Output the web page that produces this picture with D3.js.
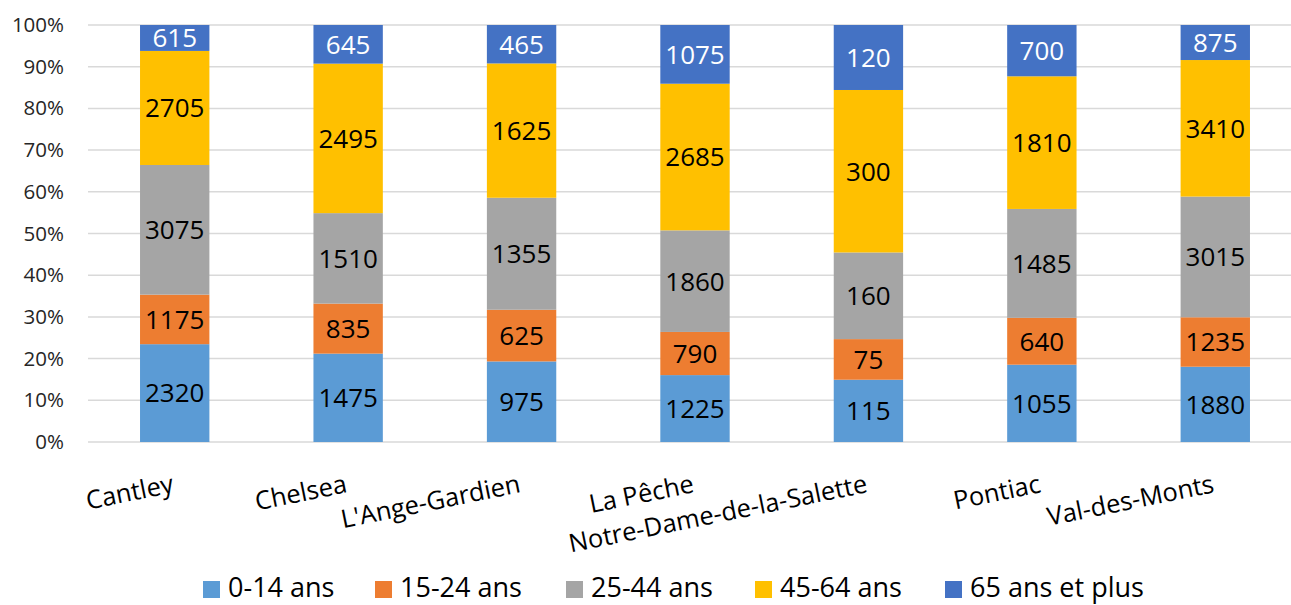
<!DOCTYPE html>
<html>
<head>
<meta charset="utf-8">
<script src="https://cdn.jsdelivr.net/npm/d3@7"></script>
<style>
  body { margin: 0; background: #fff; }
  text { font-family: "Open Sans", "Noto Sans", sans-serif; }
</style>
</head>
<body>
<div id="chart"></div>
<script>
// categories and series
var municipalites = ["Cantley", "Chelsea", "L'Ange-Gardien", "La Pêche", "Notre-Dame-de-la-Salette", "Pontiac", "Val-des-Monts"];
var groupes = ["0-14 ans", "15-24 ans", "25-44 ans", "45-64 ans", "65 ans et plus"];
var couleurs = ["#5B9BD5", "#ED7D31", "#A5A5A5", "#FFC000", "#4472C4"];

var age0_14 = [2320, 1475, 975, 1225, 115, 1055, 1880];
var age15_24 = [1175, 835, 625, 790, 75, 640, 1235];
var age25_44 = [3075, 1510, 1355, 1860, 160, 1485, 3015];
var age45_64 = [2705, 2495, 1625, 2685, 300, 1810, 3410];
var age65plus = [615, 645, 465, 1075, 120, 700, 875];

var yTicks = [0, 0.1, 0.2, 0.3, 0.4, 0.5, 0.6, 0.7, 0.8, 0.9, 1];

var svgWidth = 1291;
var svgHeight = 605;

var margin = { top: 25, right: -11, bottom: 163, left: 88 };
var chartWidth = svgWidth - margin.left - margin.right;
var chartHeight = svgHeight - margin.top - margin.bottom;

var svg = d3.select("#chart").append("svg")
  .attr("width", svgWidth)
  .attr("height", svgHeight);

var chartGroup = svg.append("g")
  .attr("transform", `translate(${margin.left}, ${margin.top})`);

// build rows for the stack
var series = [age0_14, age15_24, age25_44, age45_64, age65plus];
var rows = municipalites.map(function(m, i) {
  var row = { name: m };
  groupes.forEach(function(g, j) { row[g] = series[j][i]; });
  return row;
});

var stacked = d3.stack()
  .keys(groupes)
  .offset(d3.stackOffsetExpand)(rows);

var x = d3.scaleBand()
  .domain(municipalites)
  .range([0, chartWidth])
  .paddingInner(0.6)
  .paddingOuter(0.3);

var y = d3.scaleLinear()
  .domain([0, 1])
  .range([chartHeight, 0]);

// gridlines
chartGroup.append("g")
  .selectAll("line")
  .data(yTicks)
  .enter().append("line")
  .attr("x1", 0)
  .attr("x2", chartWidth)
  .attr("y1", d => y(d))
  .attr("y2", d => y(d))
  .attr("stroke", "#d9d9d9")
  .attr("stroke-width", 1.5);

// y axis labels
var yAxis = d3.axisLeft(y)
  .tickValues(yTicks)
  .tickFormat(d3.format(".0%"))
  .tickSize(0)
  .tickPadding(24);

var yg = chartGroup.append("g").call(yAxis);
yg.select(".domain").remove();
yg.selectAll("text")
  .attr("font-size", 20.5)
  .attr("fill", "#262626")
  .style("font-family", "'Open Sans', sans-serif");

// bars
var layers = chartGroup.selectAll(".layer")
  .data(stacked)
  .enter().append("g")
  .attr("class", "layer")
  .attr("fill", (d, i) => couleurs[i]);

layers.selectAll("rect")
  .data(d => d)
  .enter().append("rect")
  .attr("x", d => x(d.data.name))
  .attr("width", x.bandwidth())
  .attr("y", d => y(d[1]))
  .attr("height", d => y(d[0]) - y(d[1]));

// data labels
layers.each(function(layer, i) {
  d3.select(this).selectAll("text")
    .data(layer)
    .enter().append("text")
    .attr("x", d => x(d.data.name) + x.bandwidth() / 2)
    .attr("y", d => y((d[0] + d[1]) / 2))
    .attr("dy", "0.36em")
    .attr("text-anchor", "middle")
    .attr("font-size", 26)
    .attr("fill", i === 4 ? "#ffffff" : "#000000")
    .text(d => d.data[layer.key]);
});

// category labels, rotated
chartGroup.append("g")
  .selectAll("text")
  .data(municipalites)
  .enter().append("text")
  .attr("transform", d => `translate(${x(d) + x.bandwidth() / 2}, ${chartHeight + 50}) rotate(-11.5)`)
  .attr("text-anchor", "end")
  .attr("font-size", 25.5)
  .attr("fill", "#000")
  .text(d => d);

// legend
var legendX = [203, 375, 566, 755, 945];
var legend = svg.append("g")
  .selectAll("g")
  .data(groupes)
  .enter().append("g")
  .attr("transform", (d, i) => `translate(${legendX[i]}, 581)`);

legend.append("rect")
  .attr("width", 17)
  .attr("height", 17)
  .attr("fill", (d, i) => couleurs[i]);

legend.append("text")
  .attr("x", 25)
  .attr("y", 16)
  .attr("font-size", 27)
  .attr("fill", "#000")
  .text(d => d);
</script>
</body>
</html>
